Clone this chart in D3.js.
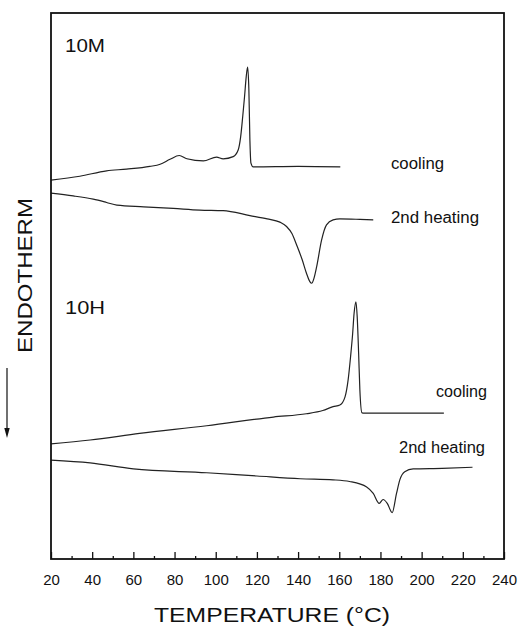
<!DOCTYPE html>
<html>
<head>
<meta charset="utf-8">
<script src="https://cdn.jsdelivr.net/npm/d3@7"></script>
<style>
  body { margin: 0; background: #fff; }
  text { font-family: "Liberation Sans", Arial, sans-serif; fill: #111; }
</style>
</head>
<body>
<div id="container"></div>
<script>
// Data ---------- ---------- ----------
// [temperature (C), heat flow (arb. units)]
let cool10M = [[20,69.4],[34,70.1],[47,71.1],[56.7,71.4],[68,71.9],[73,72.3],[77.8,73.2],[82.3,73.9],[86,73.3],[94,72.9],
  [100.4,73.6],[103.6,73.3],[108.5,73.7],[110.9,74.9],[112.1,77.3],[113.1,81.0],[114,84.7],[114.8,88.3],[115.5,90.1],
  [116.1,85.9],[116.6,76.7],[117.1,72.5],[118.2,71.8],[140,71.9],[160.5,71.8]];
let heat10M = [[20,67.0],[30.8,66.5],[40.5,65.9],[47,65.3],[52,64.8],[65,64.5],[79.4,64.2],[92.3,63.9],[103.6,63.8],
  [116.6,62.9],[125,62.3],[131.2,61.7],[134.4,60.9],[137,59.6],[139.3,57.5],[142,54.8],[144.1,52.3],[145.7,50.8],
  [146.6,50.5],[147.7,51.4],[149,53.5],[151.4,58.4],[153.8,61.2],[157,62.1],[160.3,62.3],[170,62.2],[176.5,62.1]];
let cool10H = [[20,21.1],[39,21.8],[63,23.0],[95.6,24.4],[128,26.0],[144,26.6],[152,27.2],[157,27.9],[160.3,28.2],
  [162.8,29.7],[164.3,32.8],[165.5,37.1],[166.5,41.3],[167.2,45.0],[168.1,47.1],[168.7,44.4],[169.4,37.7],[170,31.0],
  [171,26.8],[172,26.7],[210.8,26.7]];
let heat10H = [[20,18.1],[39,17.6],[60,16.5],[95.6,15.8],[120,15.2],[141,14.7],[157,14.5],[165,14.2],[173.3,13.2],
  [176.5,12.0],[179.4,10.2],[181.3,10.9],[183.3,10.2],[185.7,8.5],[187.8,12.0],[189.4,14.5],[191.8,16.0],[195.9,16.5],
  [210,16.6],[224.7,16.8]];
let majorTicks = [20,40,60,80,100,120,140,160,180,200,220,240];
let minorTicks = [30,50,70,90,110,130,150,170,190,210,230];

// Canvas ---------- ---------- ----------
let canvasW = 518, canvasH = 629;
let plotL = 51, plotR = 504, plotT = 13, plotB = 559;
let svg = d3.select("#container").append("svg").attr("width", canvasW).attr("height", canvasH);

let x = d3.scaleLinear().domain([20, 240]).range([plotL, plotR]);
let y = d3.scaleLinear().domain([0, 100]).range([plotB, plotT]);

// Curves ---------- ---------- ----------
let line = d3.line().x(d=>x(d[0])).y(d=>y(d[1])).curve(d3.curveMonotoneX);
[cool10M, heat10M, cool10H, heat10H].forEach(s=>{
  svg.append("path").attr("d", line(s))
    .attr("fill","none").attr("stroke","#222").attr("stroke-width",1.2);
});

// Axis ---------- ---------- ----------
let xAxis = svg.append("g").attr("transform","translate(0,"+plotB+")")
  .call(d3.axisBottom(x).tickValues(majorTicks).tickSizeInner(-7).tickSizeOuter(0).tickPadding(15));
xAxis.select(".domain").remove();
xAxis.selectAll("line").attr("stroke","#111").attr("stroke-width",1.3);
xAxis.selectAll("text").attr("font-size",15).attr("font-family","Liberation Sans, Arial, sans-serif").attr("fill","#111");

let xMinor = svg.append("g").attr("transform","translate(0,"+plotB+")")
  .call(d3.axisBottom(x).tickValues(minorTicks).tickSizeInner(-3).tickSizeOuter(0).tickFormat(""));
xMinor.select(".domain").remove();
xMinor.selectAll("line").attr("stroke","#111").attr("stroke-width",1.3);

// Frame
svg.append("rect").attr("x",plotL).attr("y",plotT).attr("width",plotR-plotL).attr("height",plotB-plotT)
  .attr("fill","none").attr("stroke","#111").attr("stroke-width",1.8);

// Titles ---------- ---------- ----------
svg.append("text").attr("x",272).attr("y",622).attr("text-anchor","middle")
  .attr("font-size",20).attr("textLength",236).attr("lengthAdjust","spacingAndGlyphs")
  .text("TEMPERATURE (°C)");
svg.append("text").attr("transform","translate(31.5,275.5) rotate(-90)").attr("text-anchor","middle")
  .attr("font-size",21).attr("textLength",155).attr("lengthAdjust","spacingAndGlyphs")
  .text("ENDOTHERM");

// Arrow
svg.append("line").attr("x1",7).attr("y1",368).attr("x2",7).attr("y2",430)
  .attr("stroke","#111").attr("stroke-width",1.2);
svg.append("path").attr("d","M4.3,428 L9.7,428 L7,438 Z").attr("fill","#111");

// Labels ---------- ---------- ----------
svg.append("text").attr("x",65).attr("y",52).attr("font-size",19).attr("textLength",40).attr("lengthAdjust","spacingAndGlyphs").text("10M");
svg.append("text").attr("x",65).attr("y",314).attr("font-size",19).attr("textLength",40).attr("lengthAdjust","spacingAndGlyphs").text("10H");
svg.append("text").attr("x",391).attr("y",169).attr("font-size",16).attr("textLength",53).attr("lengthAdjust","spacingAndGlyphs").text("cooling");
svg.append("text").attr("x",391).attr("y",222.5).attr("font-size",16).attr("textLength",88).attr("lengthAdjust","spacingAndGlyphs").text("2nd heating");
svg.append("text").attr("x",436).attr("y",397).attr("font-size",16).attr("textLength",51).attr("lengthAdjust","spacingAndGlyphs").text("cooling");
svg.append("text").attr("x",399).attr("y",453).attr("font-size",16).attr("textLength",86).attr("lengthAdjust","spacingAndGlyphs").text("2nd heating");
</script>
</body>
</html>
